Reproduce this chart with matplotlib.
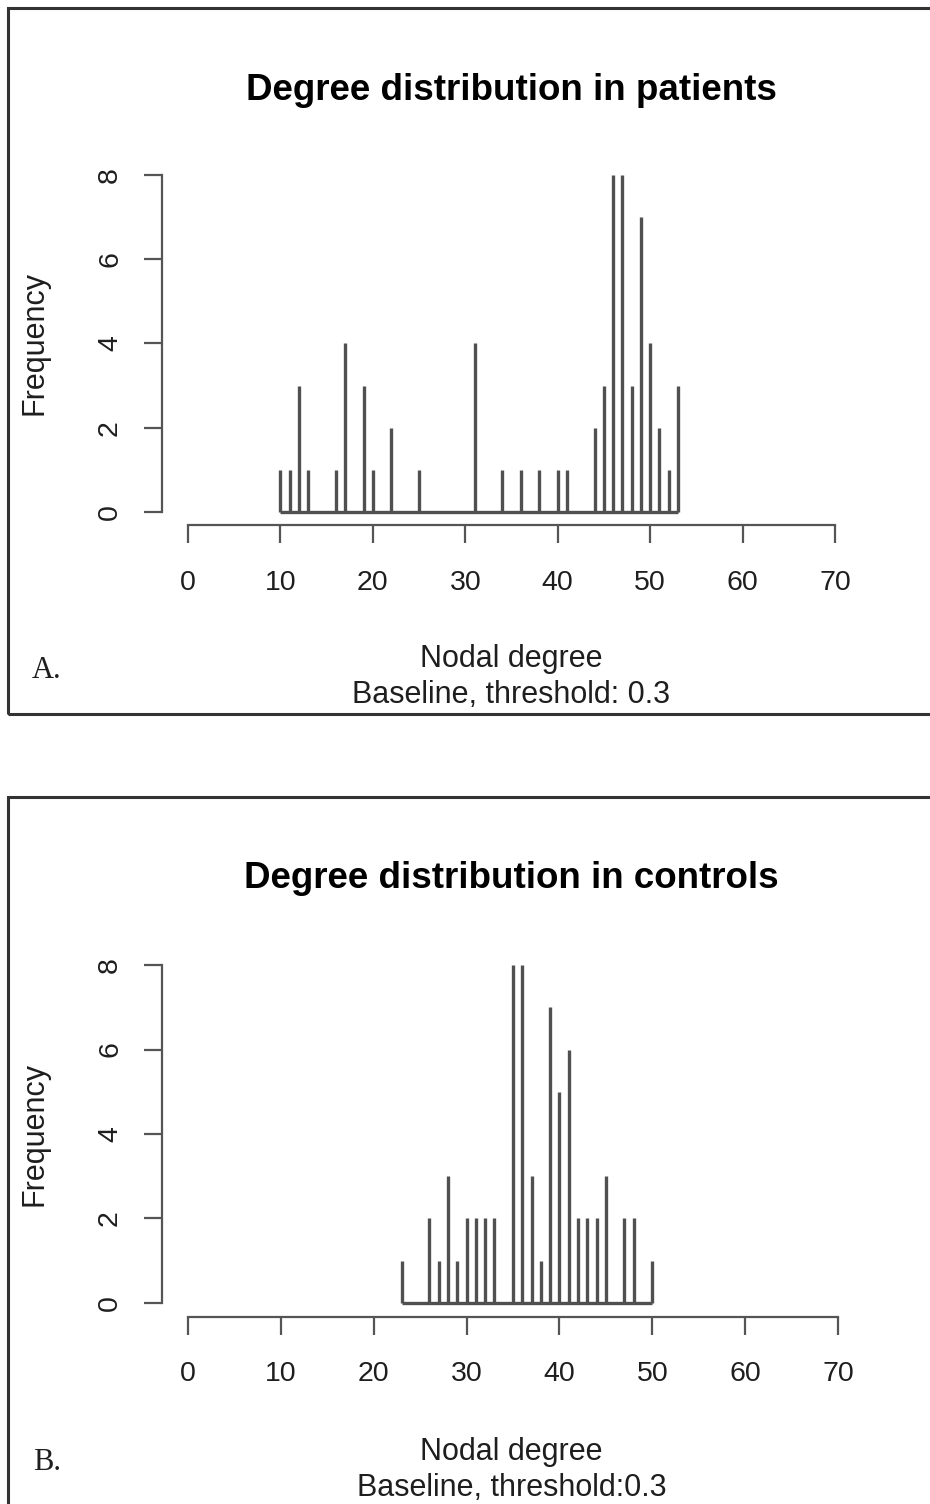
import matplotlib
matplotlib.use("Agg")
import matplotlib.pyplot as plt
from matplotlib.patches import Rectangle

# degree -> frequency
patients_degree = [10, 11, 12, 13, 16, 17, 19, 20, 22, 25, 31, 34, 36, 38, 40, 41,
                   44, 45, 46, 47, 48, 49, 50, 51, 52, 53]
patients_freq = [1, 1, 3, 1, 1, 4, 3, 1, 2, 1, 4, 1, 1, 1, 1, 1,
                 2, 3, 8, 8, 3, 7, 4, 2, 1, 3]

controls_degree = [23, 26, 27, 28, 29, 30, 31, 32, 33, 35, 36, 37, 38, 39, 40, 41,
                   42, 43, 44, 45, 47, 48, 50]
controls_freq = [1, 2, 1, 3, 1, 2, 2, 2, 2, 8, 8, 3, 1, 7, 5, 6,
                 2, 2, 2, 3, 2, 2, 1]

x_ticks = [0, 10, 20, 30, 40, 50, 60, 70]
y_ticks = [0, 2, 4, 6, 8]

W, H = 930, 1504
plt.rcParams['font.family'] = ['Liberation Sans', 'DejaVu Sans']

fig = plt.figure(figsize=(W / 100, H / 100), dpi=100)
fig.patch.set_facecolor('white')

bar_col = '#505050'
axis_col = '#555555'
txt_col = '#1e1e1e'


def px_rect(l, t, r, b):
    return [l / W, 1 - b / H, (r - l) / W, (b - t) / H]


def ftext(x, y, s, **kw):
    kw.setdefault('color', txt_col)
    fig.text(x / W, 1 - y / H, s, ha='center', va='center', **kw)


def panel(rect, degree, freq, title, title_y, xlab_y, sub, letter, ylab_y, box_top, box_bot):
    # frame around the panel
    fig.patches.append(Rectangle((8 / W, 1 - box_bot / H), (W + 20) / W, (box_bot - box_top) / H,
                                 transform=fig.transFigure, fill=False,
                                 edgecolor='#333333', lw=2.2, clip_on=False))
    ax = fig.add_axes(px_rect(*rect))
    ax.vlines(degree, 0, freq, colors=bar_col, lw=2.4)
    ax.hlines(0, min(degree), max(degree), colors=bar_col, lw=2.4)
    ax.set_xlim(-2.8, 72.8)
    ax.set_ylim(-0.32, 8.32)
    ax.patch.set_alpha(0)
    for s in ['top', 'right']:
        ax.spines[s].set_visible(False)
    for s in ['left', 'bottom']:
        ax.spines[s].set_color(axis_col)
        ax.spines[s].set_linewidth(1.6)
    ax.spines['left'].set_bounds(0, 8)
    ax.spines['bottom'].set_bounds(0, 70)
    ax.set_xticks(x_ticks)
    ax.set_yticks(y_ticks)
    ax.set_yticklabels([str(v) for v in y_ticks], rotation=90, va='center')
    ax.tick_params(axis='both', direction='out', length=13, width=1.6, color=axis_col,
                   labelsize=20.5, labelcolor=txt_col)
    ax.tick_params(axis='x', pad=19)
    ax.tick_params(axis='y', pad=15)

    ftext(511.5, title_y, title, fontsize=26.5, fontweight='bold', color='black')
    ftext(511.5, xlab_y, 'Nodal degree', fontsize=22)
    ftext(511.5, xlab_y + 36, sub, fontsize=22)
    ftext(35, ylab_y, 'Frequency', fontsize=22, rotation=90)
    ftext(47, xlab_y + 11, letter, fontsize=22, family='Liberation Serif')
    return ax


panel((162, 161.5, 861, 525.5), patients_degree, patients_freq,
      'Degree distribution in patients', 90, 659, 'Baseline, threshold: 0.3', 'A.', 343, 8, 714)
panel((162, 951.5, 864, 1316.5), controls_degree, controls_freq,
      'Degree distribution in controls', 879, 1452, 'Baseline, threshold:0.3', 'B.', 1134, 797, 1530)

fig.savefig('out.png', dpi=100)
